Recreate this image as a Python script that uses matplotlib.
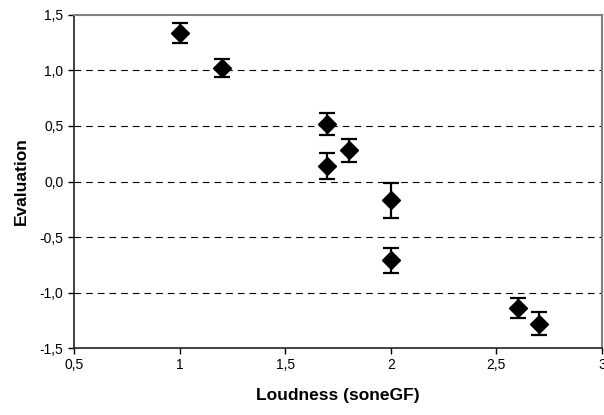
import numpy as np
import matplotlib.pyplot as plt

plt.rcParams['font.family'] = ['Liberation Sans', 'DejaVu Sans']

# data
loudness = [1.0, 1.2, 1.7, 1.7, 1.8, 2.0, 2.0, 2.6, 2.7]
evaluation = [1.34, 1.02, 0.52, 0.14, 0.28, -0.17, -0.71, -1.14, -1.28]
err = [0.09, 0.08, 0.10, 0.115, 0.10, 0.16, 0.11, 0.09, 0.10]

xticks = [0.5, 1, 1.5, 2, 2.5, 3]
xlabels = ['0,5', '1', '1,5', '2', '2,5', '3']
yticks = [-1.5, -1.0, -0.5, 0.0, 0.5, 1.0, 1.5]
ylabels = ['-1,5', '-1,0', '-0,5', '0,0', '0,5', '1,0', '1,5']

fig = plt.figure(figsize=(6.04, 4.15), dpi=100)
ax = fig.add_axes([0.1225, 0.1614, 0.8742, 0.8025])

ax.errorbar(loudness, evaluation, yerr=err, fmt='D', color='black',
            markersize=9.5, capsize=6, elinewidth=1.6, capthick=1.6, zorder=3)

ax.set_xlim(0.5, 3)
ax.set_ylim(-1.5, 1.5)
ax.set_xticks(xticks)
ax.set_xticklabels(xlabels, fontsize=10)
ax.set_yticks(yticks)
ax.set_yticklabels(ylabels, fontsize=10)

for y in [-1.0, -0.5, 0.0, 0.5, 1.0]:
    ax.axhline(y, color='black', linestyle=(0, (6, 4.5)), linewidth=0.8, zorder=1)

ax.spines['top'].set_color('#808080')
ax.spines['right'].set_color('#808080')
ax.spines['top'].set_linewidth(1.5)
ax.spines['right'].set_linewidth(1.5)
ax.spines['left'].set_linewidth(1.2)
ax.spines['bottom'].set_linewidth(1.2)
ax.spines['left'].set_color('#222222')
ax.spines['bottom'].set_color('#222222')
ax.tick_params(direction='out', length=4, width=1)

ax.set_xlabel('Loudness (soneGF)', fontsize=12.5, fontweight='bold', labelpad=11)
ax.set_ylabel('Evaluation', fontsize=12.5, fontweight='bold', labelpad=8)

fig.savefig('out.png', dpi=100)
